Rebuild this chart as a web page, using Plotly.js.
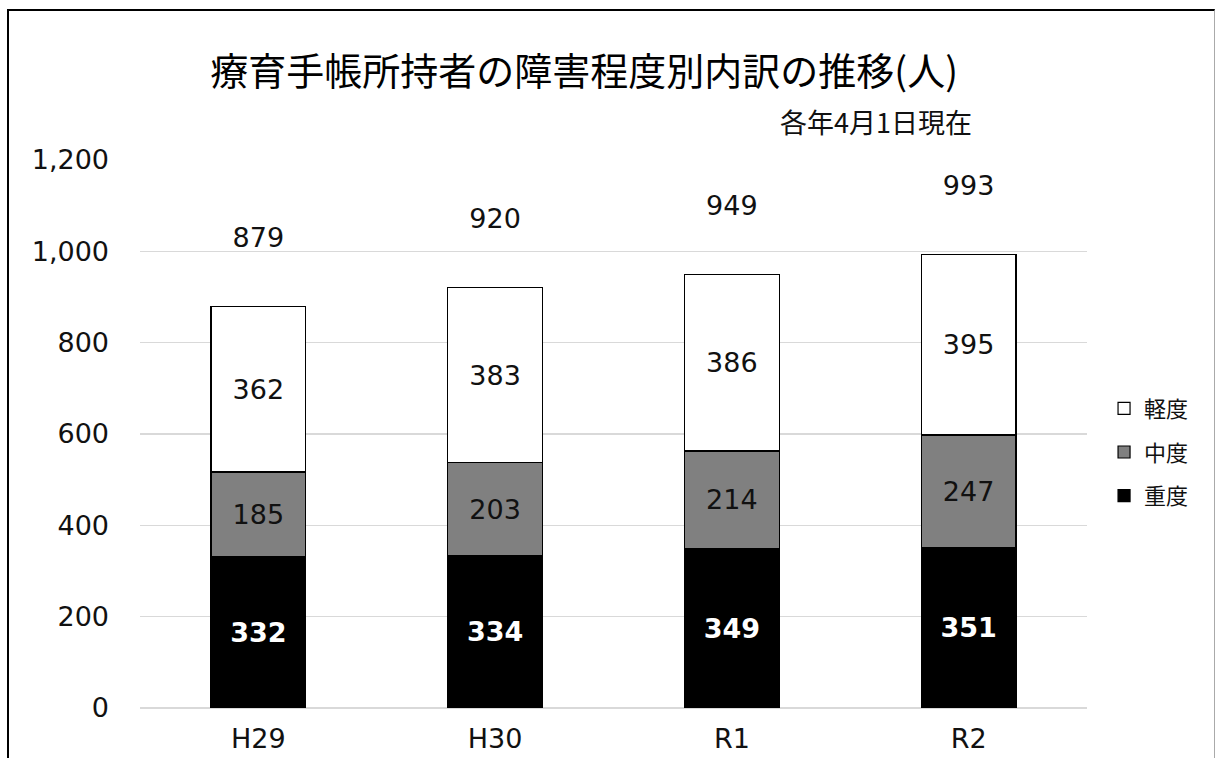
<!DOCTYPE html>
<html>
<head>
<meta charset="utf-8">
<script src="https://cdn.plot.ly/plotly-3.0.1.min.js"></script>
<style>
  html, body { margin: 0; padding: 0; background: #fff; }
  #chart { position: absolute; left: 0; top: 0; width: 1217px; height: 758px; }
  #frame { position: absolute; left: 7px; top: 9px; width: 1208px; height: 760px;
           border-left: 2px solid #000; border-top: 2px solid #000; border-right: 1px solid #aaa;
           pointer-events: none; box-sizing: border-box; }
</style>
</head>
<body>
<div id="chart"></div>
<div id="frame"></div>
<script>
// ---- data ----
const categories = ["H29", "H30", "R1", "R2"];
const severe   = [332, 334, 349, 351];   // 重度
const moderate = [185, 203, 214, 247];   // 中度
const mild     = [362, 383, 386, 395];   // 軽度
const seriesNames = ["重度", "中度", "軽度"];
const titleText = "療育手帳所持者の障害程度別内訳の推移(人)";
const noteText = "各年4月1日現在";

// ---- derived ----
const totals = categories.map((_, i) => severe[i] + moderate[i] + mild[i]);
const totalLabelOffset = 145;

const numFont = "DejaVu Sans, Liberation Sans, Arial, sans-serif";
const jpFont = "Noto Sans CJK JP, Noto Sans, sans-serif";

function barTrace(name, vals, color, textColor, bold, rank) {
  return {
    type: "bar",
    name: name,
    x: categories,
    y: vals,
    text: vals.map(String),
    textposition: "inside",
    insidetextanchor: "middle",
    textangle: 0,
    textfont: { family: numFont, size: 27, color: textColor, weight: bold ? "bold" : "normal" },
    marker: { color: color, line: { color: "#000", width: 1.2 } },
    legendgroup: name,
    legendrank: rank,
    hoverinfo: "x+y+name"
  };
}

const traces = [
  barTrace(seriesNames[0], severe, "#000000", "#ffffff", true, 3),
  barTrace(seriesNames[1], moderate, "#808080", "#111111", false, 2),
  barTrace(seriesNames[2], mild, "#ffffff", "#111111", false, 1),
  {
    type: "scatter",
    mode: "text",
    x: categories,
    y: totals.map(t => t + totalLabelOffset),
    text: totals.map(String),
    textposition: "middle center",
    textfont: { family: numFont, size: 27, color: "#111" },
    showlegend: false,
    hoverinfo: "skip",
    cliponaxis: false
  }
];

const layout = {
  width: 1217,
  height: 758,
  paper_bgcolor: "#ffffff",
  plot_bgcolor: "#ffffff",
  margin: { l: 140, r: 130, t: 160, b: 50, pad: 0 },
  barmode: "stack",
  bargap: 0.6,
  title: {
    text: titleText,
    font: { family: jpFont, size: 38, color: "#000" },
    x: 0.48, xanchor: "center",
    y: 0.905, yanchor: "middle"
  },
  xaxis: {
    type: "category",
    showgrid: false,
    showline: false,
    ticks: "",
    tickfont: { family: numFont, size: 27, color: "#111" },
    ticklabelstandoff: 12
  },
  yaxis: {
    range: [0, 1200],
    dtick: 200,
    tickformat: ",d",
    showgrid: true,
    gridcolor: "#d9d9d9",
    gridwidth: 1.5,
    zeroline: true,
    zerolinecolor: "#d9d9d9",
    zerolinewidth: 1.5,
    showline: false,
    ticks: "",
    tickfont: { family: numFont, size: 27, color: "#111" },
    ticklabelstandoff: 30
  },
  legend: {
    x: 1.018, xanchor: "left",
    y: 0.467, yanchor: "middle",
    font: { family: jpFont, size: 22, color: "#111" },
    tracegroupgap: 12,
    itemwidth: 30,
    bgcolor: "rgba(0,0,0,0)"
  },
  annotations: [
    {
      text: noteText,
      xref: "paper", yref: "paper",
      x: 0.777, y: 1.07,
      xanchor: "center", yanchor: "middle",
      showarrow: false,
      font: { family: jpFont, size: 27, color: "#111" }
    }
  ],
  showlegend: true
};

Plotly.newPlot("chart", traces, layout, { displayModeBar: false, staticPlot: true });
</script>
</body>
</html>
